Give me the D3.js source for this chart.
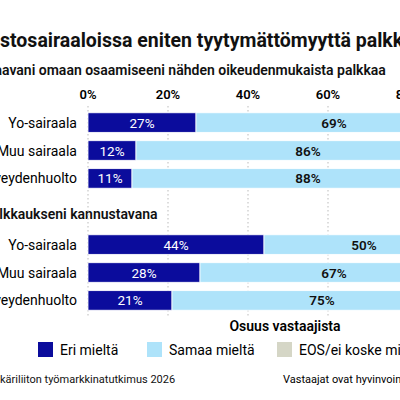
<!DOCTYPE html><html><head><meta charset="utf-8"><script src="https://cdn.jsdelivr.net/npm/d3@7"></script>
<style>body{margin:0;background:#fff}svg{display:block;font-family:Roboto,sans-serif}</style></head><body>
<svg id="c" width="400" height="400"></svg>
<script>
const categories=["Yo-sairaala","Muu sairaala","Perusterveydenhuolto"];
const series=["Eri mieltä","Samaa mieltä","EOS/ei koske minua"];
const colors=["#0b0c9c","#aee3fa","#d5d6c6"];
const fairPay=[[27,69,4],[12,86,2],[11,88,1]];
const motivating=[[44,50,6],[28,67,5],[21,75,4]];
const ticks=[0,20,40,60,80,100];
const svg=d3.select("#c");
const x=d3.scaleLinear().domain([0,100]).range([88,488]);
function cut(y,full,prefix,size,weight,x0){
  const t=svg.append("text").attr("y",y).attr("font-size",size).attr("font-weight",weight).attr("fill","#111");
  t.text(prefix);const w=t.node().getComputedTextLength();
  t.text(full).attr("x",x0-w);
}
cut(47,"Yliopistosairaaloissa eniten tyytymättömyyttä palkkaan","Yliopi",19.5,700,0);
cut(75,"Koen saavani omaan osaamiseeni nähden oikeudenmukaista palkkaa","Koen sa",14,600,2);
cut(219,"Koen palkkaukseni kannustavana","Koen pal",14,600,3);
svg.append("g").selectAll("line").data(ticks).join("line")
 .attr("x1",d=>x(d)).attr("x2",d=>x(d)).attr("y1",106).attr("y2",316)
 .attr("stroke","#bbb").attr("stroke-dasharray","1.5,2.5");
svg.append("g").selectAll("text").data(ticks).join("text")
 .attr("x",d=>x(d)).attr("y",99).attr("text-anchor","middle").attr("font-size",13).attr("font-weight",600).text(d=>d+"%");
function block(data,y0){
  const y=d3.scaleBand().domain(categories).range([y0,y0+81]).paddingInner(0.3).paddingOuter(0.1);
  categories.forEach((c,i)=>{
    let acc=0;
    svg.append("text").attr("x",77).attr("y",y(c)+y.bandwidth()/2+5).attr("text-anchor","end").attr("font-size",14).text(c);
    data[i].forEach((v,j)=>{
      svg.append("rect").attr("x",x(acc)).attr("y",y(c)).attr("width",x(acc+v)-x(acc)).attr("height",y.bandwidth())
       .attr("fill",colors[j]).attr("stroke","#fff").attr("stroke-width",0.8);
      if(j<2) svg.append("text").attr("x",(x(acc)+x(acc+v))/2).attr("y",y(c)+y.bandwidth()/2+5).attr("text-anchor","middle")
        .attr("font-size",13.5).attr("font-weight",j?600:400).attr("fill",j?"#111":"#fff").text(v+"%");
      acc+=v;
    });
  });
}
block(fairPay,110);
block(motivating,232);
svg.append("text").attr("x",285).attr("y",331).attr("text-anchor","middle").attr("font-size",14).attr("font-weight",600).text("Osuus vastaajista");
const lx=[38,147,277];
series.forEach((s,i)=>{
  svg.append("rect").attr("x",lx[i]).attr("y",342).attr("width",15).attr("height",15).attr("fill",colors[i]);
  svg.append("text").attr("x",lx[i]+22).attr("y",355).attr("font-size",14).text(s);
});
cut(383,"Lähde: Lääkäriliiton työmarkkinatutkimus 2026","Lähde: Lää",11,400,0);
svg.append("text").attr("x",283).attr("y",383).attr("font-size",11).text("Vastaajat ovat hyvinvointialueilla työskenteleviä lääkäreitä");
</script></body></html>
